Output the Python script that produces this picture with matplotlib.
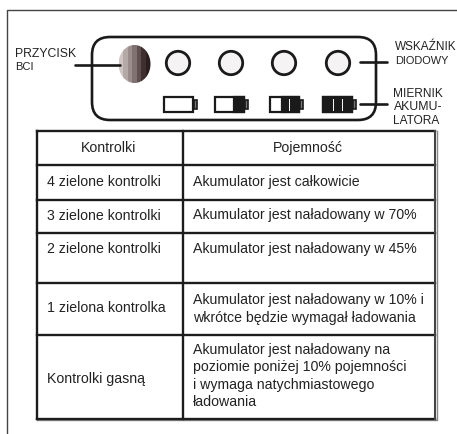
import matplotlib
matplotlib.use('Agg')
import matplotlib.pyplot as plt
from matplotlib.patches import FancyBboxPatch, Circle, Rectangle, Ellipse

plt.rcParams['font.family'] = ['Liberation Sans', 'DejaVu Sans']

# table content
headers = ['Kontrolki', 'Pojemność']
left_cells = ['4 zielone kontrolki', '3 zielone kontrolki', '2 zielone kontrolki',
              '1 zielona kontrolka', 'Kontrolki gasną']
right_cells = ['Akumulator jest całkowicie',
               'Akumulator jest naładowany w 70%',
               'Akumulator jest naładowany w 45%',
               'Akumulator jest naładowany w 10% i\nwkrótce będzie wymagał ładowania',
               'Akumulator jest naładowany na\npoziomie poniżej 10% pojemności\ni wymaga natychmiastowego\nładowania']
row_lines = [131, 165, 199.5, 233, 283, 334.5, 418.5]
left_text_y = [182, 215.5, 249, 308, 379]
right_text_y = [182, 215.5, 249, 309, 376]

# labels around the panel
side_labels = [('PRZYCISK', 15, 54), ('BCI', 15, 67.5),
               ('WSKAŹNIK', 395, 47.5), ('DIODOWY', 395, 61),
               ('MIERNIK', 393.5, 94), ('AKUMU-', 393.5, 107.5), ('LATORA', 393.5, 120.5)]
side_sizes = [8.8, 8.0, 8.5, 7.9, 8.6, 8.8, 8.6]

# stripes of the button, light to dark
stripe_colors = ['#cfc6c4', '#b5a9a7', '#9a8d8b', '#7f7270', '#5f5150', '#3f302f', '#2a1f1e']

led_x = [178, 231, 284, 338]
# battery: left edge, x where the dark fill starts, divider positions
battery_x = [164, 215, 270, 323]
battery_fill = [None, 234, 282, 323]
battery_div = [[], [], [289], [333, 342]]
battery_w = 29

fig = plt.figure(figsize=(4.57, 4.34), dpi=100)
ax = fig.add_axes([0, 0, 1, 1])
ax.set_xlim(0, 457)
ax.set_ylim(434, 0)
ax.axis('off')

dark = '#1a1a1a'

# outer frame, open at the right and bottom
ax.plot([6.5, 6.5, 457], [434, 9.5, 9.5], color='#444444', lw=1.0)

# rounded panel
ax.add_patch(FancyBboxPatch((110, 55), 248, 47, boxstyle='round,pad=18,rounding_size=18',
                            fc='white', ec=dark, lw=1.9))

# leader lines
ax.plot([75, 120], [64.5, 64.5], color=dark, lw=1.9, solid_capstyle='round')
ax.plot([360, 387], [61.5, 61.5], color=dark, lw=1.9, solid_capstyle='round')
ax.plot([360, 387], [104, 104], color=dark, lw=1.9, solid_capstyle='round')

# button
btn = Ellipse((134.5, 64), 32, 38, transform=ax.transData)
sw = 32 / len(stripe_colors)
for i, c in enumerate(stripe_colors):
    r = Rectangle((118.5 + i * sw, 44), sw + 0.3, 40, fc=c, ec='none')
    ax.add_patch(r)
    r.set_clip_path(btn)

# LEDs
for x in led_x:
    ax.add_patch(Circle((x, 63), 11.7, fc='#f6f3f4', ec=dark, lw=2.0))

# batteries
for x, fill, divs in zip(battery_x, battery_fill, battery_div):
    ax.add_patch(Rectangle((x, 96.5), battery_w, 15.5, fc='white', ec=dark, lw=1.6))
    if fill is not None:
        ax.add_patch(Rectangle((fill, 96.5), x + battery_w - fill, 15.5, fc=dark, ec=dark, lw=1.6))
    for d in divs:
        ax.plot([d, d], [99, 110], color='white', lw=0.7)
    ax.add_patch(Rectangle((x + battery_w + 0.5, 100), 3.5, 8.5, fc='#777777', ec=dark, lw=1.2))

# side labels
for (txt, x, y), size in zip(side_labels, side_sizes):
    ax.text(x, y, txt, fontsize=size, color='#222222', va='center', ha='left')

# table grid, grey shadow on the right and bottom
grid = '#1c1c1c'
ax.plot([37, 436.5, 436.5], [420, 420, 131], color='#888888', lw=1.0)
for y in row_lines:
    ax.plot([36.5, 435], [y, y], color=grid, lw=1.7, solid_capstyle='projecting')
ax.plot([36.5, 36.5], [row_lines[0], row_lines[-1]], color=grid, lw=1.7)
ax.plot([182.5, 182.5], [row_lines[0], row_lines[-1]], color=grid, lw=1.7)
ax.plot([434.5, 434.5], [row_lines[0], row_lines[-1]], color='#444444', lw=1.5)

# table text
ax.text(109, 148, headers[0], fontsize=10.2, color='#222222', ha='center', va='center')
ax.text(308, 148, headers[1], fontsize=10.2, color='#222222', ha='center', va='center')
for txt, y in zip(left_cells, left_text_y):
    ax.text(47, y, txt, fontsize=10.2, color='#222222', ha='left', va='center')
for txt, y in zip(right_cells, right_text_y):
    ax.text(193, y, txt, fontsize=10.2, color='#222222', ha='left', va='center', linespacing=1.3)

fig.savefig('out.png', dpi=100)
